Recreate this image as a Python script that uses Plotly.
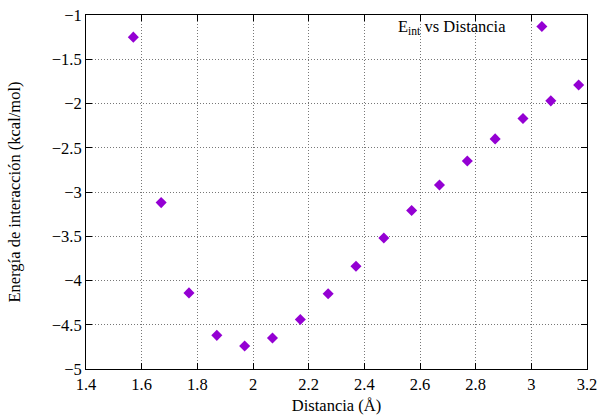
import plotly.graph_objects as go

distancia = [1.57, 1.67, 1.77, 1.87, 1.97, 2.07, 2.17, 2.27, 2.37, 2.47, 2.57, 2.67, 2.77, 2.87, 2.97, 3.07, 3.17]
energia = [-1.25, -3.12, -4.14, -4.62, -4.74, -4.65, -4.44, -4.15, -3.84, -3.52, -3.21, -2.92, -2.65, -2.40, -2.17, -1.97, -1.79]
x_ticks = [1.4, 1.6, 1.8, 2.0, 2.2, 2.4, 2.6, 2.8, 3.0, 3.2]
x_tick_labels = ["1.4", "1.6", "1.8", "2", "2.2", "2.4", "2.6", "2.8", "3", "3.2"]
y_ticks = [-5, -4.5, -4, -3.5, -3, -2.5, -2, -1.5, -1]
y_tick_labels = ["\u22125", "\u22124.5", "\u22124", "\u22123.5", "\u22123", "\u22122.5", "\u22122", "\u22121.5", "\u22121"]

font = dict(family="Liberation Serif", size=16.5, color="black")

fig = go.Figure()
fig.add_trace(go.Scatter(
    x=distancia, y=energia, mode="markers", name="",
    marker=dict(symbol="diamond", size=8.5, color="#9400D3", line=dict(width=0)),
    showlegend=True,
))

axis_common = dict(
    showline=True, linecolor="black", linewidth=1, mirror="allticks",
    ticks="inside", ticklen=6, tickcolor="black",
    showgrid=True, gridcolor="#777777", griddash="1px,2px", gridwidth=1,
    zeroline=False, tickfont=font,
)

fig.update_xaxes(range=[1.4, 3.2], tickvals=x_ticks, ticktext=x_tick_labels,
                 title=dict(text="Distancia (Å)", font=font, standoff=6), **axis_common)
fig.update_yaxes(range=[-5, -1], tickvals=y_ticks, ticktext=y_tick_labels,
                 title=dict(text="Energía de interacción (kcal/mol)", font=font, standoff=26), **axis_common)

fig.add_annotation(xref="paper", yref="paper", x=0.842, y=0.967, xanchor="right", yanchor="middle",
                   text="E<sub>int</sub> vs Distancia", showarrow=False, font=font)

fig.update_layout(
    width=599, height=420,
    margin=dict(l=86, r=12, t=15, b=51, autoexpand=False),
    paper_bgcolor="white", plot_bgcolor="white",
    font=font,
    legend=dict(x=0.87, y=0.967, xanchor="left", yanchor="middle",
                bgcolor="rgba(0,0,0,0)", itemwidth=30, font=font),
)

fig.write_html("out.html")
